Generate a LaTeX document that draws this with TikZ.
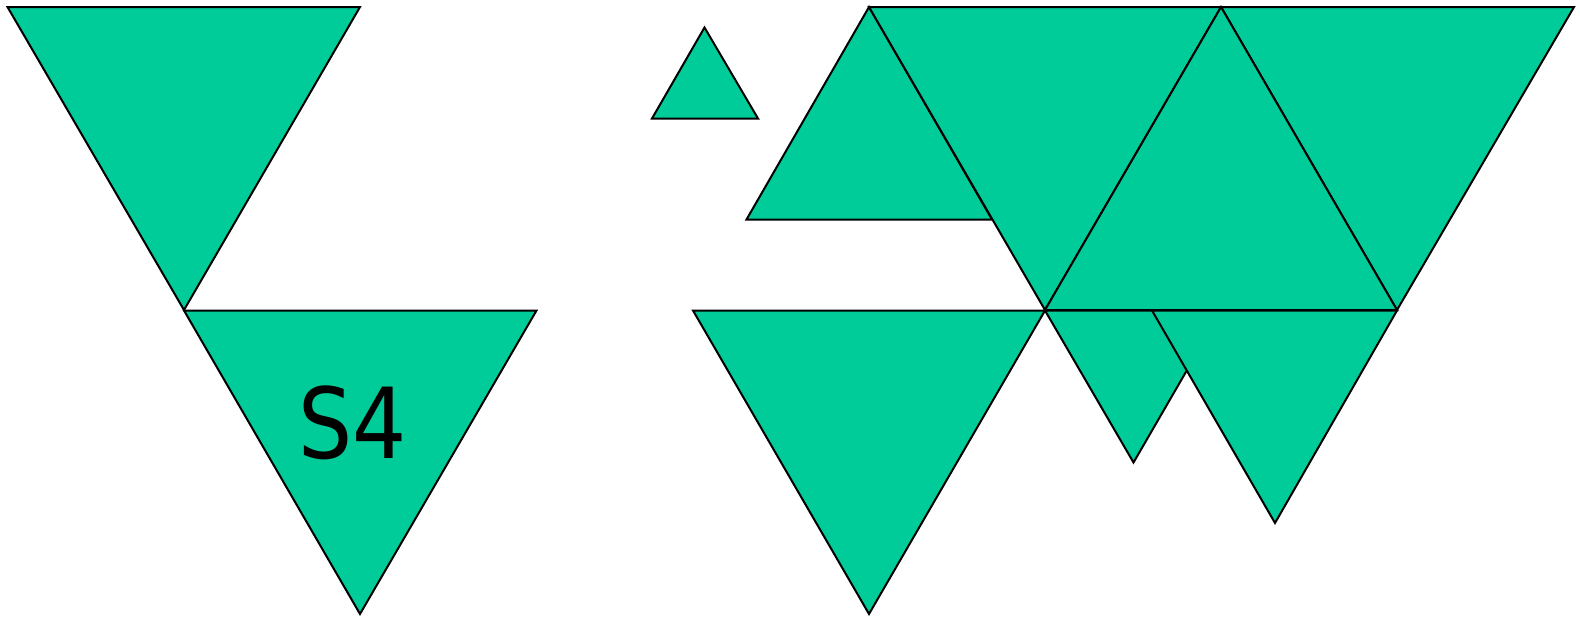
\documentclass[tikz,border=0pt]{standalone}
\usepackage{fontspec}
\newfontfamily\labelfont[FakeStretch=0.87]{DejaVu Sans}
\definecolor{tri}{RGB}{0,204,153}
\begin{document}
\begin{tikzpicture}[x=1pt,y=-1pt,
  tri/.style={fill=tri,draw=black,line width=2pt,line join=miter}]
\useasboundingbox (0,0) rectangle (1580,616);
% left group
\filldraw[tri] (7.5,7) -- (360,7) -- (184,310) -- cycle;
\filldraw[tri] (184,310.5) -- (536.5,310.5) -- (360,614) -- cycle;
\node[font=\labelfont\fontsize{98}{98}\selectfont, inner sep=0pt] (s4) at (353,423) {S4};
% small up triangle
\filldraw[tri] (652,118.5) -- (758,118.5) -- (704.5,27.5) -- cycle;
% right group
\filldraw[tri] (746.5,219.5) -- (992,219.5) -- (869,7) -- cycle;
\filldraw[tri] (869,7) -- (1221,7) -- (1045,310) -- cycle;
\filldraw[tri] (1221,7) -- (1574,7) -- (1397,310) -- cycle;
\filldraw[tri] (1045,310) -- (1397,310) -- (1221,7) -- cycle;
\filldraw[tri] (693,310.5) -- (1045,310.5) -- (869,614) -- cycle;
\filldraw[tri] (1045,310.5) -- (1221.5,310.5) -- (1133.5,462.5) -- cycle;
\filldraw[tri] (1152,310.5) -- (1397,310.5) -- (1275,523) -- cycle;
\end{tikzpicture}
\end{document}
